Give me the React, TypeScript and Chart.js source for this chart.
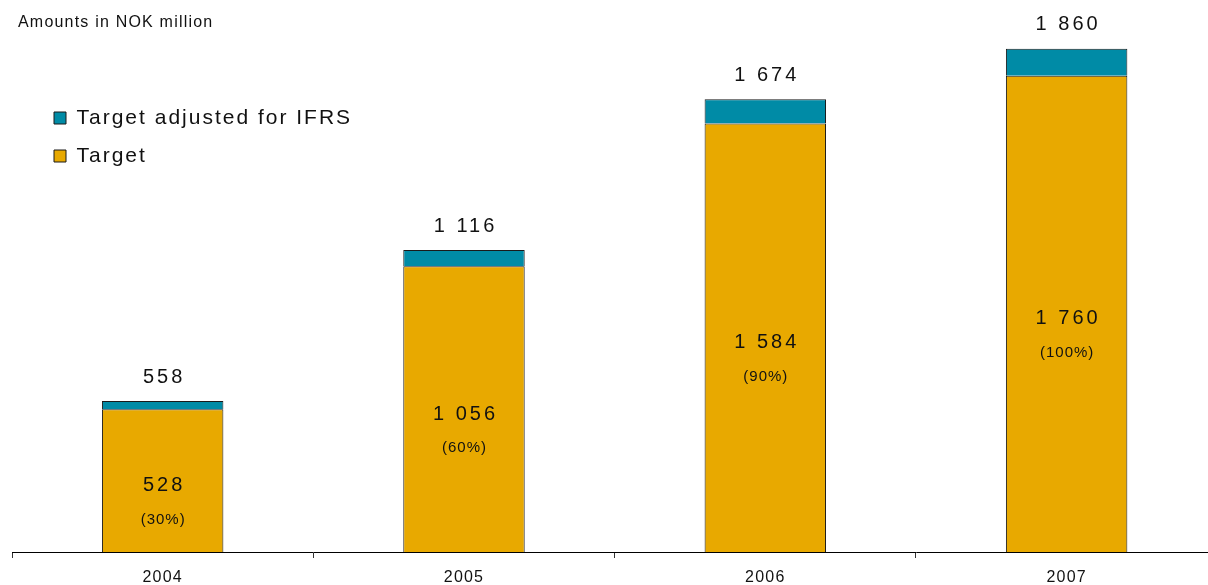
import React, { useEffect, useRef } from 'react';
import { Chart, registerables } from 'chart.js';

Chart.register(...registerables);

const years = ['2004', '2005', '2006', '2007'];
const targetValues = [528, 1056, 1584, 1760];
const ifrsAdjustment = [30, 60, 90, 100];
const totalLabels = [558, 1116, 1674, 1860];
const shareLabels = ['(30%)', '(60%)', '(90%)', '(100%)'];
const seriesNames = ['Target', 'Target adjusted for IFRS'];
const unitTitle = 'Amounts in NOK million';

const FONT = "'Liberation Sans', Arial, Helvetica, sans-serif";
const fmt = (n: number) => String(n).replace(/\B(?=(\d{3})+(?!\d))/g, ' ');

const spacingPlugin = {
  id: 'spacing',
  beforeDraw(chart: any) {
    chart.ctx.letterSpacing = '1.2px';
  },
};

const placePlugin = {
  id: 'place',
  afterLayout(chart: any) {
    const legend = chart.legend;
    if (legend) {
      legend.left = 37;
      legend.top = 90.5;
      if (!legend.__wrapped) {
        const orig = legend.draw;
        legend.draw = function (...args: any[]) {
          const ctx = this.ctx;
          ctx.save();
          ctx.letterSpacing = '2px';
          orig.apply(this, args);
          ctx.restore();
        };
        legend.__wrapped = true;
      }
    }
    if (chart.titleBlock) {
      chart.titleBlock.left = 18;
    }
  },
};

const labelPlugin = {
  id: 'barLabels',
  afterDatasetsDraw(chart: any) {
    const ctx = chart.ctx;
    const base = chart.getDatasetMeta(0).data;
    const top = chart.getDatasetMeta(1).data;
    ctx.save();
    ctx.fillStyle = '#111';
    ctx.textAlign = 'center';
    ctx.textBaseline = 'middle';
    for (let i = 0; i < years.length; i++) {
      const b = base[i];
      const t = top[i];
      ctx.font = `20px ${FONT}`;
      ctx.letterSpacing = '3px';
      ctx.fillText(fmt(totalLabels[i]), t.x + 1.5, t.y - 24);
      const mid = (b.y + b.base) / 2;
      ctx.fillText(fmt(targetValues[i]), b.x + 1.5, mid + 5);
      ctx.font = `15px ${FONT}`;
      ctx.letterSpacing = '1px';
      ctx.fillText(shareLabels[i], b.x + 0.5, mid + 39);
    }
    ctx.restore();
  },
};

export default function App() {
  const ref = useRef<HTMLCanvasElement>(null);

  useEffect(() => {
    if (!ref.current) return;
    Chart.defaults.font.family = FONT;
    const chart = new Chart(ref.current, {
      type: 'bar',
      data: {
        labels: years,
        datasets: [
          {
            label: seriesNames[0],
            data: targetValues,
            backgroundColor: '#E8A900',
            borderColor: '#1a1a1a',
            borderWidth: 1,
            barPercentage: 0.403,
            categoryPercentage: 1,
          },
          {
            label: seriesNames[1],
            data: ifrsAdjustment,
            backgroundColor: '#008BA6',
            borderColor: '#1a1a1a',
            borderWidth: 1,
            barPercentage: 0.403,
            categoryPercentage: 1,
          },
        ],
      },
      options: {
        responsive: false,
        animation: false,
        devicePixelRatio: 1,
        layout: { padding: { left: 12, right: 12.7, top: 0, bottom: 0 } },
        scales: {
          x: {
            stacked: true,
            offset: true,
            afterFit: (scale: any) => {
              scale.height = 33;
            },
            grid: {
              display: true,
              drawOnChartArea: false,
              drawTicks: true,
              tickLength: 6,
              offset: true,
              color: '#333',
              lineWidth: 1,
            },
            border: { display: true, color: '#000', width: 1 },
            ticks: {
              color: '#111',
              padding: 10,
              font: { size: 16, family: FONT },
            },
          },
          y: {
            stacked: true,
            display: false,
            min: 0,
            max: 1900,
          },
        },
        plugins: {
          tooltip: { enabled: false },
          title: {
            display: true,
            text: unitTitle,
            align: 'start',
            color: '#111',
            font: { size: 16, weight: 'normal', family: FONT },
            padding: { top: 12.5, bottom: 6.3 },
          },
          legend: {
            display: true,
            position: 'chartArea',
            align: 'start',
            reverse: true,
            labels: {
              color: '#111',
              boxWidth: 12,
              boxHeight: 12,
              padding: 17,
              font: { size: 21, family: FONT },
            },
          },
        },
      } as any,
      plugins: [spacingPlugin, placePlugin, labelPlugin],
    });
    return () => chart.destroy();
  }, []);

  return (
    <div
      style={{
        position: 'absolute',
        left: 0,
        top: 0,
        width: 1208,
        height: 585,
        overflow: 'hidden',
        background: '#fff',
      }}
    >
      <canvas ref={ref} width={1230} height={585} style={{ width: 1230, height: 585, display: 'block' }} />
    </div>
  );
}
